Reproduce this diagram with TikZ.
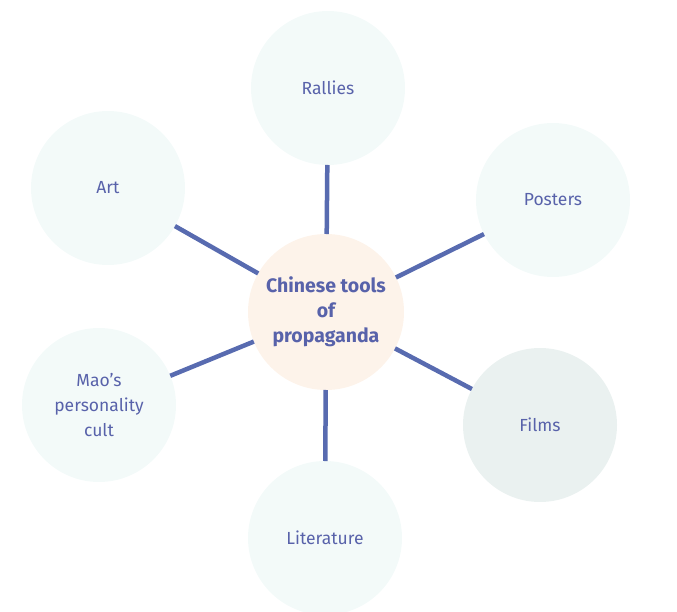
\documentclass[tikz,border=0pt]{standalone}
\usepackage{fontspec}
\setmainfont{Fira Sans}
\usepackage{xcolor}
\usepackage{tikz}

\definecolor{topicblue}{HTML}{5862AA}
\definecolor{linkblue}{HTML}{586BB0}
\definecolor{bubble}{HTML}{F3FAF9}
\definecolor{bubbledark}{HTML}{EAF1F0}
\definecolor{hub}{HTML}{FDF3EA}

\begin{document}
\begin{tikzpicture}[x=1pt, y=-1pt,
		tool/.style={circle, fill=bubble, minimum size=154pt, inner sep=0pt, outer sep=0pt,
			align=center, text=topicblue, font=\fontsize{17.5}{25}\selectfont},
		hubnode/.style={tool, fill=hub, minimum size=156pt, font=\fontsize{19.5}{25}\selectfont\bfseries},
		link/.style={draw=linkblue, line width=4.5pt}]
					\useasboundingbox (0,0) rectangle (677,612);

					\node[hubnode] (hub) at (326,312) {Chinese tools\\of\\propaganda};

					\foreach \name/\x/\y/\col/\txt in {rallies/328/88/bubble/Rallies,
						posters/553/200/bubble/Posters, films/540/425/bubbledark/Films,
						literature/325/538/bubble/Literature,
						mao/99/405/bubble/{Mao’s\\personality\\cult}, art/108/188/bubble/Art}
					{
						\node[tool, fill=\col] (\name) at (\x,\y) {\txt};
					}

					\begin{scope}
						\foreach \name in {rallies, posters, films, literature, mao, art}
						{
							\draw[link] (hub) -- (\name);
						}
					\end{scope}
				\end{tikzpicture}
\end{document}
